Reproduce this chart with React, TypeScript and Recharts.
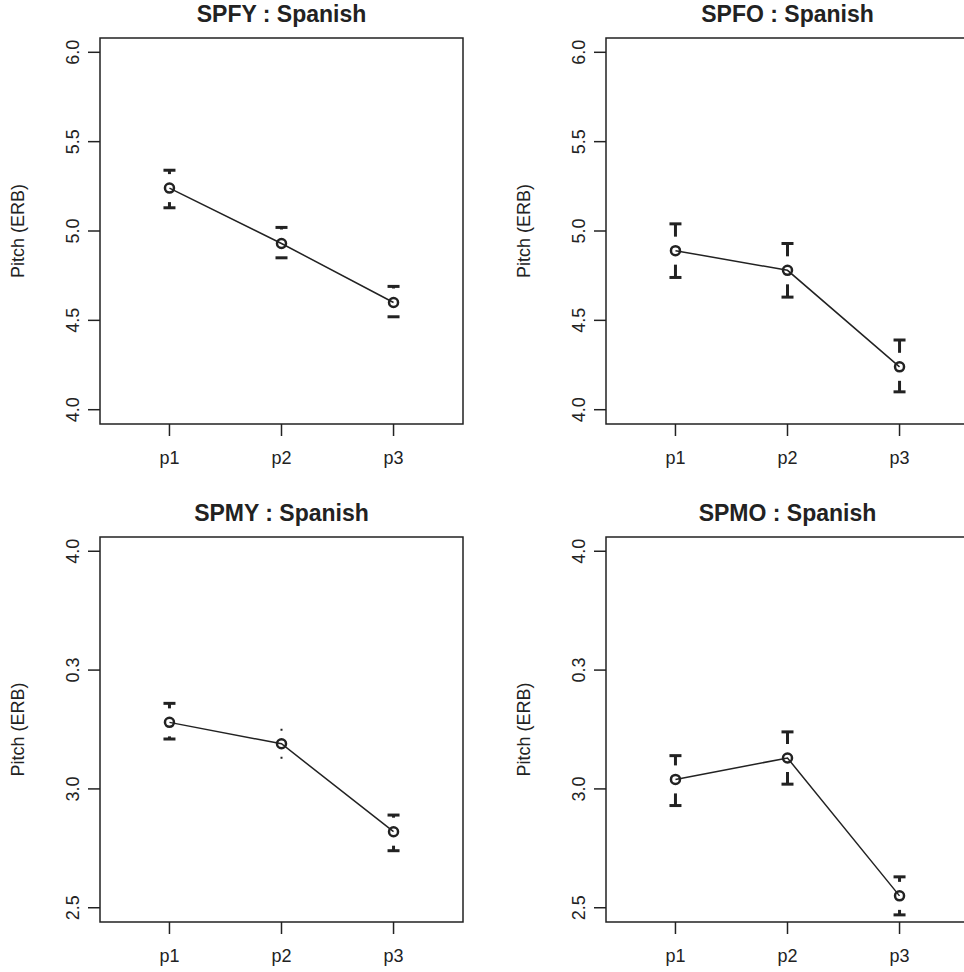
import React from 'react';
import { LineChart, Line, XAxis, YAxis, ReferenceArea } from 'recharts';

// categories and x positions
const categories = ['p1', 'p2', 'p3'];
const xPos = [1, 2, 3];

// means and error limits per speaker group (ERB)
const spfyMean = [5.24, 4.93, 4.6];
const spfyHi = [5.34, 5.02, 4.69];
const spfyLo = [5.13, 4.85, 4.52];

const spfoMean = [4.89, 4.78, 4.24];
const spfoHi = [5.04, 4.93, 4.39];
const spfoLo = [4.74, 4.63, 4.1];

const spmyMean = [3.28, 3.19, 2.82];
const spmyHi = [3.36, 3.23, 2.89];
const spmyLo = [3.21, 3.15, 2.74];

const spmoMean = [3.04, 3.13, 2.55];
const spmoHi = [3.14, 3.24, 2.63];
const spmoLo = [2.93, 3.02, 2.47];

// y ticks
const topTicks = [4.0, 4.5, 5.0, 5.5, 6.0];
const topTickLabels = ['4.0', '4.5', '5.0', '5.5', '6.0'];
const bottomTicks = [2.5, 3.0, 3.5, 4.0];
const bottomTickLabels = ['2.5', '3.0', '0.3', '4.0'];

const INK = '#222';
const FONT = '"Liberation Sans", Arial, Helvetica, sans-serif';
const LABEL_SIZE = 18;

const buildRows = (mean: number[], hi: number[], lo: number[]) =>
    xPos.map((x, i) => ({ x, name: categories[i], mean: mean[i], hi: hi[i], lo: lo[i] }));

// circle + gapped error bars (R plotCI style)
const MeanDot = (props: any) => {
    const { cx, cy, payload, points, index } = props;
    if (cx == null || cy == null) return null;
    let k = 0;
    if (points && points.length > 1) {
        const a = points[0];
        const b = points[points.length - 1];
        k = (b.y - a.y) / (b.payload.mean - a.payload.mean);
    }
    const yHi = cy + (payload.hi - payload.mean) * k;
    const yLo = cy + (payload.lo - payload.mean) * k;
    const gap = 14;
    const half = 6;
    const parts: React.ReactNode[] = [];
    if (cy - yHi > gap) {
        parts.push(<line key="hs" x1={cx} x2={cx} y1={yHi} y2={cy - gap} stroke={INK} strokeWidth={3} />);
        parts.push(<line key="hc" x1={cx - half} x2={cx + half} y1={yHi} y2={yHi} stroke={INK} strokeWidth={3} />);
    } else {
        parts.push(<rect key="hd" x={cx - 1} y={cy - gap - 1} width={2} height={2} fill={INK} />);
    }
    if (yLo - cy > gap) {
        parts.push(<line key="ls" x1={cx} x2={cx} y1={cy + gap} y2={yLo} stroke={INK} strokeWidth={3} />);
        parts.push(<line key="lc" x1={cx - half} x2={cx + half} y1={yLo} y2={yLo} stroke={INK} strokeWidth={3} />);
    } else {
        parts.push(<rect key="ld" x={cx - 1} y={cy + gap - 1} width={2} height={2} fill={INK} />);
    }
    return (
        <g key={`dot-${index}`}>
            {parts}
            <circle cx={cx} cy={cy} r={4.5} fill="none" stroke={INK} strokeWidth={2.5} />
        </g>
    );
};

const makeYTick = (ticks: number[], labels: string[]) => (props: any) => {
    const { x, y, payload } = props;
    const i = ticks.indexOf(payload.value);
    const tx = x - 13;
    return (
        <text x={tx} y={y} transform={`rotate(-90, ${tx}, ${y})`} textAnchor="middle" dominantBaseline="central"
            fill={INK} fontSize={LABEL_SIZE} fontFamily={FONT}>
            {i >= 0 ? labels[i] : payload.value}
        </text>
    );
};

interface PanelProps {
    title: string;
    rows: any[];
    yDomain: [number, number];
    ticks: number[];
    tickLabels: string[];
    left: number;
    top: number;
    width: number;
    plotRight: number;
    marginLeft: number;
    marginTop: number;
    marginBottom: number;
}

const Panel: React.FC<PanelProps> = ({ title, rows, yDomain, ticks, tickLabels, left, top, width, plotRight, marginLeft, marginTop, marginBottom }) => {
    const plotLeft = marginLeft + 50;
    const center = (plotLeft + plotRight) / 2;
    return (
        <div style={{ position: 'absolute', left, top, width, height: 486 }}>
            <div style={{ position: 'absolute', left: 0, width: center * 2, top: marginTop - 38, textAlign: 'center', fontWeight: 'bold', fontSize: 23, lineHeight: '28px', color: INK, fontFamily: FONT }}>
                {title}
            </div>
            <LineChart width={width} height={486} data={rows}
                margin={{ top: marginTop, right: width - plotRight, left: marginLeft, bottom: marginBottom }}>
                <XAxis dataKey="x" type="number" domain={[0.38, 3.62]} ticks={xPos} allowDataOverflow
                    tickFormatter={(v: number) => categories[xPos.indexOf(v)] ?? ''}
                    axisLine={false} tickSize={12} tickMargin={15} height={40}
                    tickLine={{ stroke: INK, strokeWidth: 1.5 }}
                    tick={{ fill: INK, fontSize: LABEL_SIZE, fontFamily: FONT }} />
                <YAxis type="number" domain={yDomain} ticks={ticks} allowDataOverflow width={50}
                    axisLine={false} tickSize={12} tickLine={{ stroke: INK, strokeWidth: 1.5 }}
                    tick={makeYTick(ticks, tickLabels)}
                    label={{
                        content: (p: any) => {
                            const vb = p.viewBox || {};
                            const lx = (vb.x ?? 0) + (vb.width ?? 50) - 82;
                            const ly = (vb.y ?? 0) + (vb.height ?? 0) / 2;
                            return (
                                <text x={lx} y={ly} transform={`rotate(-90, ${lx}, ${ly})`} textAnchor="middle"
                                    dominantBaseline="central" fill={INK} fontSize={LABEL_SIZE} fontFamily={FONT}>
                                    Pitch (ERB)
                                </text>
                            );
                        },
                    }} />
                <ReferenceArea x1={0.38} x2={3.62} y1={yDomain[0]} y2={yDomain[1]} fill="none" fillOpacity={0}
                    stroke={INK} strokeWidth={1.5} strokeOpacity={1} ifOverflow="visible" />
                <Line dataKey="mean" stroke={INK} strokeWidth={1.5} isAnimationActive={false}
                    dot={MeanDot} activeDot={false} />
            </LineChart>
        </div>
    );
};

export default function App() {
    return (
        <div style={{ position: 'fixed', left: 0, top: 0, width: 964, height: 972, overflow: 'hidden', background: '#fff', fontFamily: FONT }}>
            <Panel title="SPFY : Spanish" rows={buildRows(spfyMean, spfyHi, spfyLo)} yDomain={[3.92, 6.08]}
                ticks={topTicks} tickLabels={topTickLabels} left={0} top={0} width={482} plotRight={463}
                marginLeft={50} marginTop={38} marginBottom={22} />
            <Panel title="SPFO : Spanish" rows={buildRows(spfoMean, spfoHi, spfoLo)} yDomain={[3.92, 6.08]}
                ticks={topTicks} tickLabels={topTickLabels} left={482} top={0} width={500} plotRight={487}
                marginLeft={74} marginTop={38} marginBottom={22} />
            <Panel title="SPMY : Spanish" rows={buildRows(spmyMean, spmyHi, spmyLo)} yDomain={[2.44, 4.06]}
                ticks={bottomTicks} tickLabels={bottomTickLabels} left={0} top={486} width={482} plotRight={463}
                marginLeft={50} marginTop={51} marginBottom={10} />
            <Panel title="SPMO : Spanish" rows={buildRows(spmoMean, spmoHi, spmoLo)} yDomain={[2.44, 4.06]}
                ticks={bottomTicks} tickLabels={bottomTickLabels} left={482} top={486} width={500} plotRight={487}
                marginLeft={74} marginTop={51} marginBottom={10} />
        </div>
    );
}
